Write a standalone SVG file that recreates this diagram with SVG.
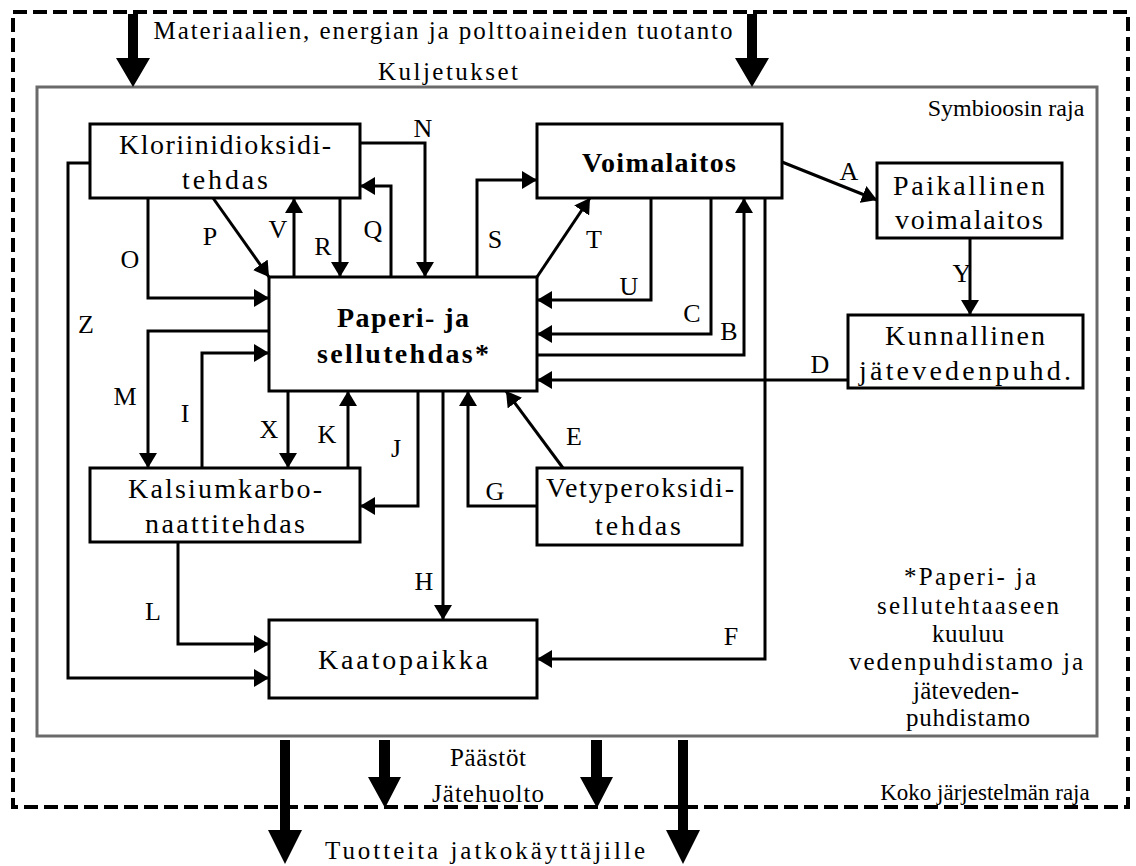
<svg xmlns="http://www.w3.org/2000/svg" width="1136" height="866" viewBox="0 0 1136 866">
<defs>
<marker id="ah" markerUnits="userSpaceOnUse" markerWidth="16" markerHeight="18" refX="15" refY="9" orient="auto">
<path d="M0,0 L15,9 L0,18 z" fill="#000"/>
</marker>
<style>
.t{font-family:"Liberation Serif","Times New Roman",serif;font-size:28px;fill:#000;text-anchor:middle}
.b{font-weight:bold}
.l{font-size:26px}
.s{font-size:25px}
.m{font-size:24px}
.box{fill:#fff;stroke:#000;stroke-width:3}
.c{fill:none;stroke:#000;stroke-width:3;marker-end:url(#ah)}
.big{fill:#000}
</style>
</defs>
<rect width="1136" height="866" fill="#fff"/>
<g id="boundaries">
<rect x="13" y="12" width="1115" height="795" fill="none" stroke="#000" stroke-width="4" stroke-dasharray="14 6"/>
<rect x="37" y="87" width="1060" height="649" fill="none" stroke="#6a6a6a" stroke-width="3"/>
<text class="t s" x="443" y="39" textLength="579" lengthAdjust="spacing">Materiaalien, energian ja polttoaineiden tuotanto</text>
<text class="t s" x="448" y="80" textLength="140" lengthAdjust="spacing">Kuljetukset</text>
<text class="t m" x="1006" y="116">Symbioosin raja</text>
<text class="t s" x="488" y="766" textLength="76" lengthAdjust="spacing">Päästöt</text>
<text class="t s" x="488" y="802" textLength="112" lengthAdjust="spacing">Jätehuolto</text>
<text class="t" style="font-size:23px" x="985" y="800">Koko järjestelmän raja</text>
<text class="t s" x="485" y="859" textLength="320" lengthAdjust="spacing">Tuotteita jatkokäyttäjille</text>
</g>
<g id="big-arrows">
<polygon class="big" points="128,14 138,14 138,58 150,58 133,87 116,58 128,58"/>
<polygon class="big" points="747,14 757,14 757,58 769,58 752,87 735,58 747,58"/>
<polygon class="big" points="280,740 290,740 290,830 302,830 285,864 268,830 280,830"/>
<polygon class="big" points="379,740 390,740 390,777 401,777 385,808 368,777 379,777"/>
<polygon class="big" points="591,740 602,740 602,777 613,777 597,808 580,777 591,777"/>
<polygon class="big" points="678,740 688,740 688,830 700,830 683,864 666,830 678,830"/>
</g>
<g id="connectors">
<line class="c" x1="782" y1="162" x2="877" y2="200"/>
<line class="c" x1="970" y1="238" x2="970" y2="315"/>
<line class="c" x1="848" y1="380" x2="537" y2="380"/>
<polyline class="c" points="537,355 744,355 744,198"/>
<polyline class="c" points="711,198 711,334 537,334"/>
<polyline class="c" points="651,198 651,300 537,300"/>
<polyline class="c" points="765,198 765,659 537,659"/>
<line class="c" x1="537" y1="277" x2="590" y2="198"/>
<polyline class="c" points="477,277 477,180 537,180"/>
<polyline class="c" points="360,143 425,143 425,277"/>
<polyline class="c" points="391,277 391,186 360,186"/>
<line class="c" x1="340" y1="198" x2="340" y2="277"/>
<line class="c" x1="294" y1="277" x2="294" y2="198"/>
<line class="c" x1="213" y1="198" x2="269" y2="277"/>
<polyline class="c" points="148,198 148,298 269,298"/>
<polyline class="c" points="90,163 68,163 68,678 269,678"/>
<polyline class="c" points="269,331 148,331 148,468"/>
<polyline class="c" points="202,468 202,353 269,353"/>
<line class="c" x1="288" y1="391" x2="288" y2="468"/>
<line class="c" x1="348" y1="468" x2="348" y2="391"/>
<polyline class="c" points="418,391 418,506 360,506"/>
<line class="c" x1="443" y1="391" x2="443" y2="620"/>
<polyline class="c" points="537,506 468,506 468,391"/>
<line class="c" x1="563" y1="468" x2="506" y2="391"/>
<polyline class="c" points="178,542 178,644 269,644"/>
</g>
<g id="labels">
<text class="t l" x="423" y="137">N</text>
<text class="t l" x="210" y="245">P</text>
<text class="t l" x="278" y="238">V</text>
<text class="t l" x="323" y="255">R</text>
<text class="t l" x="373" y="238">Q</text>
<text class="t l" x="495" y="248">S</text>
<text class="t l" x="594" y="248">T</text>
<text class="t l" x="130" y="268">O</text>
<text class="t l" x="629" y="295">U</text>
<text class="t l" x="692" y="322">C</text>
<text class="t l" x="729" y="340">B</text>
<text class="t l" x="849" y="180">A</text>
<text class="t l" x="962" y="282">Y</text>
<text class="t l" x="820" y="373">D</text>
<text class="t l" x="125" y="405">M</text>
<text class="t l" x="185" y="422">I</text>
<text class="t l" x="269" y="438">X</text>
<text class="t l" x="327" y="443">K</text>
<text class="t l" x="396" y="457">J</text>
<text class="t l" x="574" y="445">E</text>
<text class="t l" x="495" y="500">G</text>
<text class="t l" x="424" y="590">H</text>
<text class="t l" x="153" y="620">L</text>
<text class="t l" x="731" y="645">F</text>
<text class="t l" x="86" y="333">Z</text>
</g>
<g id="node-kloriini">
<rect class="box" x="90" y="124" width="270" height="74"/>
<text class="t" x="225" y="154" textLength="212" lengthAdjust="spacing">Kloriinidioksidi-</text>
<text class="t" x="225" y="189" textLength="86" lengthAdjust="spacing">tehdas</text>
</g>
<g id="node-voimalaitos">
<rect class="box" x="537" y="124" width="245" height="74"/>
<text class="t b" x="659" y="172" textLength="154" lengthAdjust="spacing">Voimalaitos</text>
</g>
<g id="node-paikallinen">
<rect class="box" x="877" y="163" width="185" height="75"/>
<text class="t" x="969" y="195" textLength="152" lengthAdjust="spacing">Paikallinen</text>
<text class="t" x="969" y="229" textLength="148" lengthAdjust="spacing">voimalaitos</text>
</g>
<g id="node-kunnallinen">
<rect class="box" x="848" y="315" width="235" height="73"/>
<text class="t" x="965" y="345" textLength="160" lengthAdjust="spacing">Kunnallinen</text>
<text class="t" x="965" y="380" textLength="212" lengthAdjust="spacing">jätevedenpuhd.</text>
</g>
<g id="node-paperi">
<rect class="box" x="269" y="277" width="268" height="114"/>
<text class="t b" x="403" y="327" textLength="132" lengthAdjust="spacing">Paperi- ja</text>
<text class="t b" x="403" y="363" textLength="172" lengthAdjust="spacing">sellutehdas*</text>
</g>
<g id="node-kalsium">
<rect class="box" x="90" y="468" width="270" height="74"/>
<text class="t" x="225" y="498" textLength="194" lengthAdjust="spacing">Kalsiumkarbo-</text>
<text class="t" x="225" y="533" textLength="160" lengthAdjust="spacing">naattitehdas</text>
</g>
<g id="node-vetyperoksidi">
<rect class="box" x="537" y="468" width="205" height="77"/>
<text class="t" x="640" y="497" textLength="188" lengthAdjust="spacing">Vetyperoksidi-</text>
<text class="t" x="638" y="535" textLength="86" lengthAdjust="spacing">tehdas</text>
</g>
<g id="node-kaatopaikka">
<rect class="box" x="269" y="620" width="268" height="78"/>
<text class="t" x="403" y="669" textLength="170" lengthAdjust="spacing">Kaatopaikka</text>
</g>
<g id="note">
<text class="t s" x="970" y="585" textLength="132" lengthAdjust="spacing">*Paperi- ja</text>
<text class="t s" x="968" y="614" textLength="182" lengthAdjust="spacing">sellutehtaaseen</text>
<text class="t s" x="968" y="642" textLength="72" lengthAdjust="spacing">kuuluu</text>
<text class="t s" x="966" y="670" textLength="234" lengthAdjust="spacing">vedenpuhdistamo ja</text>
<text class="t s" x="966" y="699" textLength="106" lengthAdjust="spacing">jäteveden-</text>
<text class="t s" x="968" y="726" textLength="124" lengthAdjust="spacing">puhdistamo</text>
</g>
</svg>
